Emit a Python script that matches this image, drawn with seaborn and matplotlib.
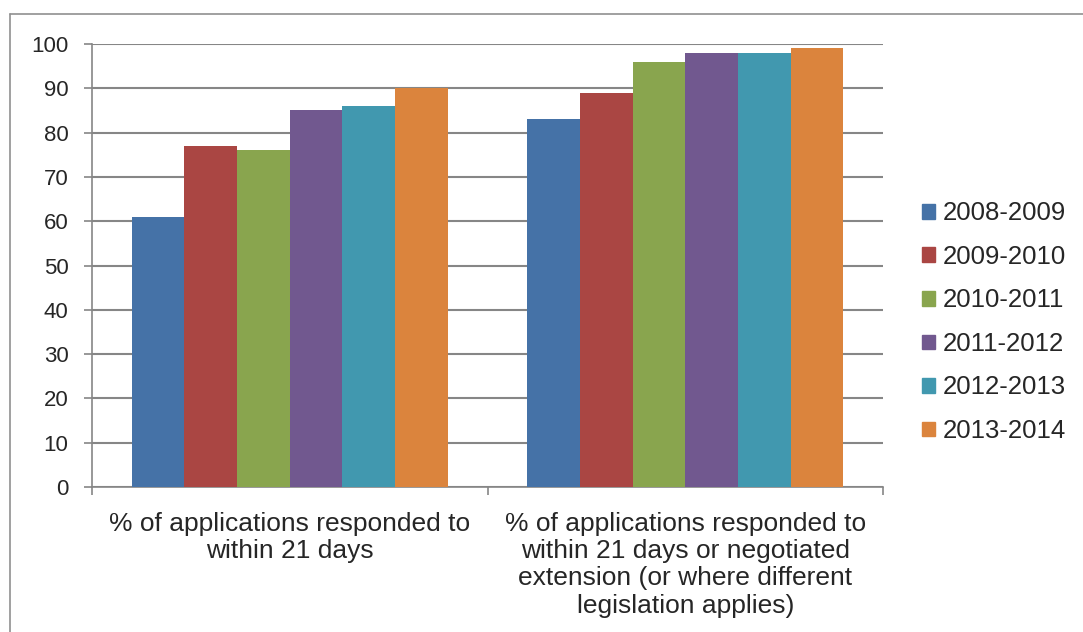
import numpy as np
import pandas as pd
import matplotlib
matplotlib.use('Agg')
import matplotlib.pyplot as plt
import seaborn as sns
from matplotlib.lines import Line2D

# data
categories = ['% of applications responded to\nwithin 21 days',
              '% of applications responded to\nwithin 21 days or negotiated\nextension (or where different\nlegislation applies)']
years = ['2008-2009', '2009-2010', '2010-2011', '2011-2012', '2012-2013', '2013-2014']
within_21 = [61, 77, 76, 85, 86, 90]
within_21_ext = [83, 89, 96, 98, 98, 99]
colors = ['#4572A7', '#AA4643', '#89A54E', '#71588F', '#4198AF', '#DB843D']

rows = []
for y, a, b in zip(years, within_21, within_21_ext):
    rows.append({'cat': categories[0], 'year': y, 'val': a})
    rows.append({'cat': categories[1], 'year': y, 'val': b})
df = pd.DataFrame(rows)

sns.set_style('white')
plt.rcParams['font.family'] = ['Liberation Sans', 'DejaVu Sans']

fig = plt.figure(figsize=(10.83, 6.32), dpi=100)
ax = fig.add_axes([92/1083, 1-487/632, (883-92)/1083, (487-44)/632])

sns.barplot(data=df, x='cat', y='val', hue='year', order=categories, hue_order=years,
            palette=colors, width=0.8, ax=ax, saturation=1, edgecolor='none', zorder=3)

gridc = '#868686'
ax.set_ylim(0, 100)
ax.set_xlim(-0.5, 1.5)
ax.set_yticks(range(0, 101, 10))
ax.yaxis.grid(True, color=gridc, linewidth=1.5, zorder=0)
ax.set_axisbelow(True)
for s in ['top', 'right']:
    ax.spines[s].set_visible(False)
for s in ['left', 'bottom']:
    ax.spines[s].set_color(gridc)
    ax.spines[s].set_linewidth(1.2)
ax.set_xlabel('')
ax.set_ylabel('')
ax.tick_params(axis='y', length=6, width=1.2, color=gridc, labelsize=16, pad=11, left=True)
ax.tick_params(axis='x', length=0, labelsize=19, pad=18)
for t in ax.get_xticklabels():
    t.set_linespacing(1.17)
ax.set_xticks([-0.5, 0.5, 1.5], minor=True)
ax.tick_params(axis='x', which='minor', length=6, width=1.2, color=gridc, bottom=True)

leg_handles = [plt.Rectangle((0, 0), 1, 1, color=c) for c in colors]
ax.legend(leg_handles, years, loc='center left', bbox_to_anchor=(1.03, 0.372),
          frameon=False, fontsize=18.5, handlelength=0.5, handleheight=0.5,
          handletextpad=0.3, labelspacing=0.76, borderaxespad=0.2)

# outer chart border
fig.add_artist(Line2D([10/1083, 10/1083], [0, 1-14/632], transform=fig.transFigure, color='#909090', lw=1.2))
fig.add_artist(Line2D([10/1083, 1], [1-14/632, 1-14/632], transform=fig.transFigure, color='#909090', lw=1.2))

fig.savefig('out.png', dpi=100)
